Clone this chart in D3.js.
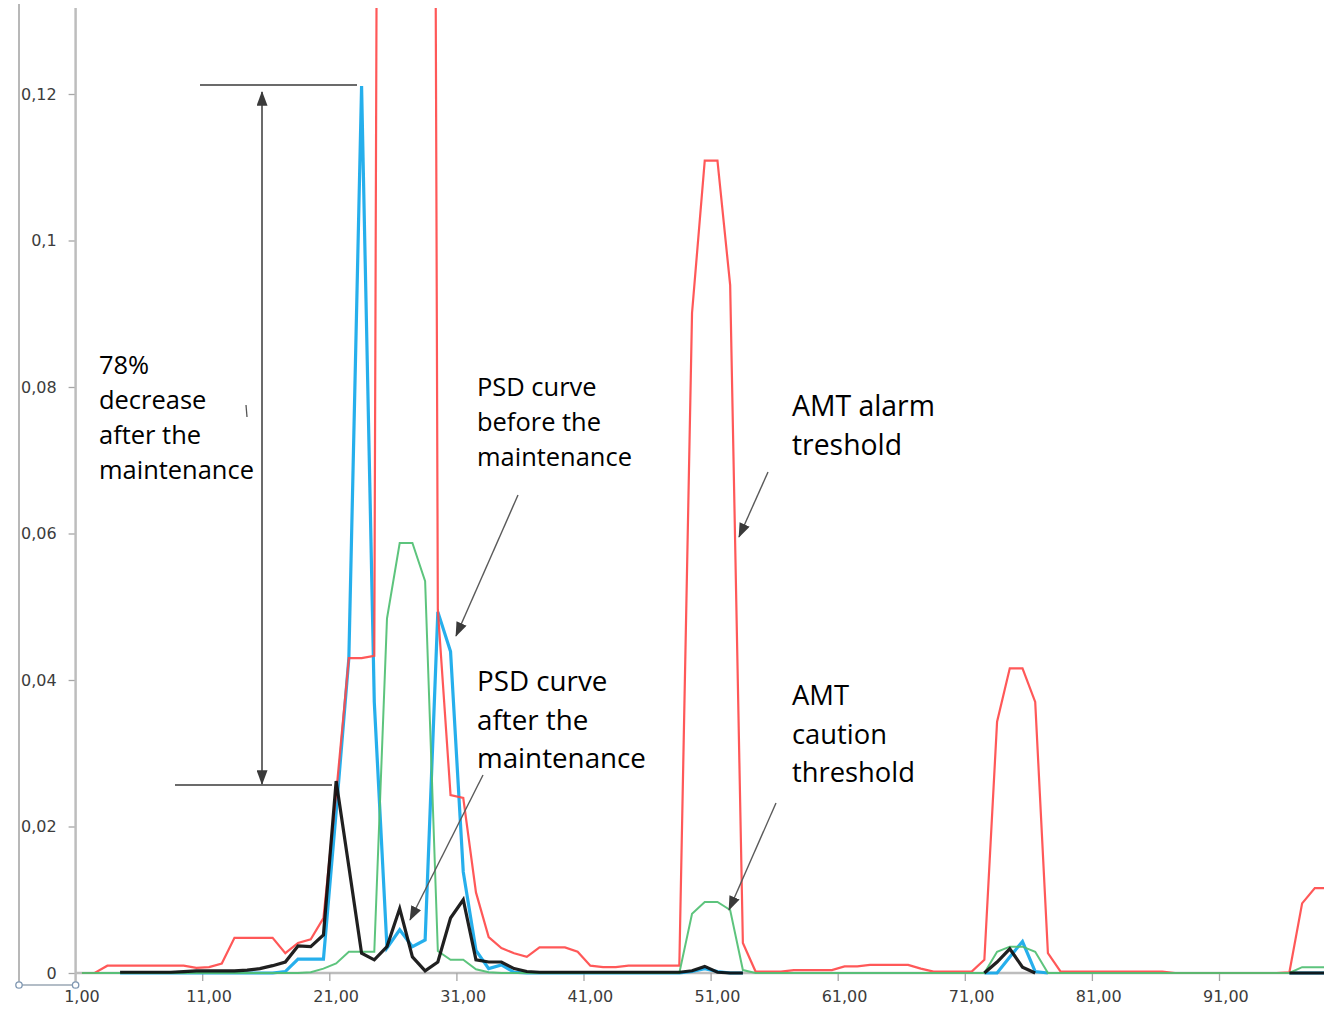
<!DOCTYPE html>
<html>
<head>
<meta charset="utf-8">
<script src="https://cdn.jsdelivr.net/npm/d3@7"></script>
<style>
  body { margin: 0; background: #fff; }
  svg { display: block; }
</style>
</head>
<body>
<svg id="chart" width="1324" height="1011"></svg>
<script>
// Frequency bins 1..100 (category axis)
const categories = d3.range(1, 101);

// AMT alarm threshold (red)
const alarmThreshold = [
  0, 0, 0.0010, 0.0010, 0.0010, 0.0010, 0.0010, 0.0010, 0.0010, 0.0007,
  0.0008, 0.0013, 0.0048, 0.0048, 0.0048, 0.0048, 0.0027, 0.0041, 0.0046, 0.0075,
  0.0245, 0.0430, 0.0430, 0.0433, 0.55, 0.55, 0.55, 0.55, 0.0496, 0.0243,
  0.0239, 0.0110, 0.0049, 0.0034, 0.0027, 0.0022, 0.0035, 0.0035, 0.0035, 0.0029,
  0.0010, 0.0008, 0.0008, 0.0010, 0.0010, 0.0010, 0.0010, 0.0010, 0.0901, 0.1109,
  0.1109, 0.0939, 0.0041, 0.0002, 0.0002, 0.0002, 0.0004, 0.0004, 0.0004, 0.0004,
  0.0009, 0.0009, 0.0011, 0.0011, 0.0011, 0.0011, 0.0006, 0.0002, 0.0002, 0.0002,
  0.0002, 0.0018, 0.0343, 0.0416, 0.0416, 0.0370, 0.0027, 0.0002, 0.0002, 0.0002,
  0.0002, 0.0002, 0.0002, 0.0002, 0.0002, 0.0002, 0, 0, 0, 0,
  0, 0, 0, 0, 0, 0.0001, 0.0095, 0.0116, 0.0116, 0.0116
];

// AMT caution threshold (green)
const cautionThreshold = [
  0, 0, 0, 0, 0, 0, 0, 0, 0, 0,
  0, 0, 0, 0, 0, 0, 0, 0, 0.0001, 0.0006,
  0.0013, 0.0029, 0.0029, 0.0029, 0.0484, 0.0587, 0.0587, 0.0535, 0.0030, 0.0018,
  0.0018, 0.0005, 0.0001, 0, 0, 0, 0, 0, 0, 0,
  0, 0, 0, 0, 0, 0, 0, 0, 0.0081, 0.0097,
  0.0097, 0.0086, 0.0004, 0, 0, 0, 0, 0, 0, 0,
  0, 0, 0, 0, 0, 0, 0, 0, 0, 0,
  0, 0, 0.0029, 0.0036, 0.0036, 0.0029, 0, 0, 0, 0,
  0, 0, 0, 0, 0, 0, 0, 0, 0, 0,
  0, 0, 0, 0, 0, 0, 0.0008, 0.0008, 0.0008, 0.0008
];

// PSD curve before the maintenance (blue)
const psdBefore = [
  null, null, null, 0, 0, 0, 0, 0, 0, 0,
  0, 0, 0, 0, 0, 0, 0.0002, 0.0019, 0.0019, 0.0019,
  0.0220, 0.0430, 0.1211, 0.0370, 0.0034, 0.0059, 0.0036, 0.0045, 0.0493, 0.0439,
  0.0138, 0.0031, 0.0006, 0.0011, 0.0001, 0, 0, 0, 0, 0,
  0, 0, 0, 0, 0, 0, 0, 0, 0.0002, 0.0006,
  0.0002, 0, 0, null, null, null, null, null, null, null,
  null, null, null, null, null, null, null, null, null, null,
  null, 0, 0, 0.0022, 0.0043, 0.0002, 0, null, null, null,
  null, null, null, null, null, null, null, null, null, null,
  null, null, null, null, null, 0, 0, 0, 0, 0
];

// PSD curve after the maintenance (black)
const psdAfter = [
  null, null, null, 0.0001, 0.0001, 0.0001, 0.0001, 0.0001, 0.0002, 0.0003,
  0.0003, 0.0003, 0.0003, 0.0004, 0.0006, 0.0010, 0.0015, 0.0037, 0.0036, 0.0052,
  0.0262, 0.0145, 0.0027, 0.0018, 0.0036, 0.0088, 0.0022, 0.0003, 0.0015, 0.0075,
  0.0100, 0.0018, 0.0015, 0.0015, 0.0006, 0.0002, 0.0001, 0.0001, 0.0001, 0.0001,
  0.0001, 0.0001, 0.0001, 0.0001, 0.0001, 0.0001, 0.0001, 0.0001, 0.0003, 0.0009,
  0.0001, 0, 0, null, null, null, null, null, null, null,
  null, null, null, null, null, null, null, null, null, null,
  null, 0, 0.0015, 0.0033, 0.0008, 0, null, null, null, null,
  null, null, null, null, null, null, null, null, null, null,
  null, null, null, null, null, 0, 0, 0, 0, 0
];

// Axis labels
const yTickValues = [0, 0.02, 0.04, 0.06, 0.08, 0.1, 0.12];
const yTickLabels = ["0", "0,02", "0,04", "0,06", "0,08", "0,1", "0,12"];
const xTickValues = [1, 11, 21, 31, 41, 51, 61, 71, 81, 91];
const xTickLabels = ["1,00", "11,00", "21,00", "31,00", "41,00", "51,00", "61,00", "71,00", "81,00", "91,00"];

// Annotation texts
const noteDecrease = ["78%", "decrease", "after the", "maintenance"];
const noteBefore = ["PSD curve", "before the", "maintenance"];
const noteAfter = ["PSD curve", "after the", "maintenance"];
const noteAlarm = ["AMT alarm", "treshold"];
const noteCaution = ["AMT", "caution", "threshold"];

const svg = d3.select("#chart");

// Layout of the plotting area
const plotLeft = 75.6, bandW = 12.71, plotTop = 8, baseY = 973;

const x = d3.scaleBand()
  .domain(categories)
  .range([plotLeft, plotLeft + categories.length * bandW])
  .padding(0);
const cx = c => x(c) + x.bandwidth() / 2;

const y = d3.scaleLinear().domain([0, 0.12]).range([baseY, 94]);

const defs = svg.append("defs");
defs.append("clipPath").attr("id", "plotClip")
  .append("rect")
  .attr("x", plotLeft).attr("y", plotTop)
  .attr("width", 1324 - plotLeft).attr("height", baseY - plotTop + 6);

defs.append("marker")
  .attr("id", "arrowHead")
  .attr("viewBox", "0 0 16 12")
  .attr("markerUnits", "userSpaceOnUse")
  .attr("markerWidth", 15).attr("markerHeight", 11)
  .attr("refX", 15).attr("refY", 6)
  .attr("orient", "auto-start-reverse")
  .append("path").attr("d", "M0,0 L16,6 L0,12 Z").attr("fill", "#3a3a3a");

// Selection frame at the left of the chart object
svg.append("line").attr("x1", 19).attr("y1", 4).attr("x2", 19).attr("y2", 985)
  .attr("stroke", "#b8b8b8").attr("stroke-width", 2);
svg.append("line").attr("x1", 19).attr("y1", 985).attr("x2", plotLeft).attr("y2", 985)
  .attr("stroke", "#9aa7b5").attr("stroke-width", 1.5);

// Y axis
const yAxis = d3.axisLeft(y)
  .tickValues(yTickValues)
  .tickFormat((d, i) => yTickLabels[i])
  .tickSize(7)
  .tickPadding(12);
const gy = svg.append("g").attr("transform", `translate(${plotLeft},0)`).call(yAxis);
gy.select(".domain").remove();
gy.selectAll(".tick line").attr("stroke", "#a6a6a6").attr("stroke-width", 1.3);
gy.selectAll(".tick text")
  .attr("font-family", "DejaVu Sans").attr("font-size", 16).attr("fill", "#3c3c3c");
svg.append("line").attr("x1", plotLeft).attr("y1", plotTop).attr("x2", plotLeft).attr("y2", 985)
  .attr("stroke", "#bdbdbd").attr("stroke-width", 2.5);

// X axis: labels centred on categories, tick marks on category boundaries
const xAxis = d3.axisBottom(x)
  .tickValues(xTickValues)
  .tickFormat((d, i) => xTickLabels[i])
  .tickSize(0)
  .tickPadding(18);
const gx = svg.append("g").attr("transform", `translate(0,${baseY})`).call(xAxis);
gx.select(".domain").remove();
gx.selectAll(".tick text")
  .attr("font-family", "DejaVu Sans").attr("font-size", 16).attr("fill", "#3c3c3c");
svg.append("line").attr("x1", plotLeft).attr("y1", baseY).attr("x2", 1324).attr("y2", baseY)
  .attr("stroke", "#bdbdbd").attr("stroke-width", 2.5);
svg.append("g").selectAll("line")
  .data(xTickValues.slice(1))
  .join("line")
  .attr("x1", d => x(d)).attr("x2", d => x(d))
  .attr("y1", baseY).attr("y2", baseY + 8)
  .attr("stroke", "#a6a6a6").attr("stroke-width", 1.3);

// Handles of the selection frame
svg.selectAll("circle.handle")
  .data([19, plotLeft])
  .join("circle")
  .attr("class", "handle")
  .attr("cx", d => d).attr("cy", 985).attr("r", 3.2)
  .attr("fill", "#fff").attr("stroke", "#7f97b2").attr("stroke-width", 1.3);

// Series lines
const line = d3.line()
  .defined(d => d.v !== null)
  .x(d => cx(d.c))
  .y(d => y(d.v));

const series = [
  { values: psdBefore, color: "#14a8ea", width: 3.2 },
  { values: alarmThreshold, color: "#ff4a4a", width: 2.2 },
  { values: cautionThreshold, color: "#4fbf72", width: 2 },
  { values: psdAfter, color: "#0d0d0d", width: 3.2 }
];

const gLines = svg.append("g").attr("clip-path", "url(#plotClip)");
series.forEach(s => {
  gLines.append("path")
    .datum(categories.map((c, i) => ({ c, v: s.values[i] })))
    .attr("fill", "none")
    .attr("stroke", s.color)
    .attr("stroke-width", s.width)
    .attr("stroke-linejoin", "miter")
    .attr("opacity", 0.92)
    .attr("d", line);
});

// Reference levels of the peak before and after maintenance
const gNotes = svg.append("g");
gNotes.append("line").attr("x1", 200).attr("y1", 85).attr("x2", 357).attr("y2", 85)
  .attr("stroke", "#3a3a3a").attr("stroke-width", 1.5);
gNotes.append("line").attr("x1", 175).attr("y1", 785).attr("x2", 332).attr("y2", 785)
  .attr("stroke", "#3a3a3a").attr("stroke-width", 1.5);
gNotes.append("line").attr("x1", 262).attr("y1", 92).attr("x2", 262).attr("y2", 784)
  .attr("stroke", "#3a3a3a").attr("stroke-width", 1.5)
  .attr("marker-start", "url(#arrowHead)").attr("marker-end", "url(#arrowHead)");
gNotes.append("line").attr("x1", 246).attr("y1", 405).attr("x2", 247).attr("y2", 417)
  .attr("stroke", "#555").attr("stroke-width", 1.3);

// Pointer arrows
const arrows = [
  [518, 495, 456, 636],
  [483, 775, 410, 920],
  [768, 472, 739, 537],
  [776, 803, 729, 910]
];
gNotes.selectAll("line.pointer")
  .data(arrows)
  .join("line")
  .attr("class", "pointer")
  .attr("x1", d => d[0]).attr("y1", d => d[1])
  .attr("x2", d => d[2]).attr("y2", d => d[3])
  .attr("stroke", "#5a5a5a").attr("stroke-width", 1.4)
  .attr("marker-end", "url(#arrowHead)");

// Text blocks, sized so that a reference line spans a given width
const noteFont = "Open Sans";
function textBlock(lines, x0, y0, gap, refLine, refWidth) {
  const probe = gNotes.append("text")
    .attr("font-family", noteFont).attr("font-size", 100).text(lines[refLine]);
  const size = 100 * refWidth / probe.node().getComputedTextLength();
  probe.remove();
  gNotes.append("g").selectAll("text")
    .data(lines)
    .join("text")
    .attr("x", x0).attr("y", (d, i) => y0 + i * gap)
    .attr("font-family", noteFont).attr("font-size", size)
    .attr("fill", "#000")
    .text(d => d);
}
textBlock(noteDecrease, 99, 374, 35, 3, 155);
textBlock(noteBefore, 477, 396, 35, 2, 155);
textBlock(noteAfter, 477, 691, 38.5, 2, 169);
textBlock(noteAlarm, 792, 416, 39, 0, 143);
textBlock(noteCaution, 792, 705, 38.5, 2, 123);
</script>
</body>
</html>
